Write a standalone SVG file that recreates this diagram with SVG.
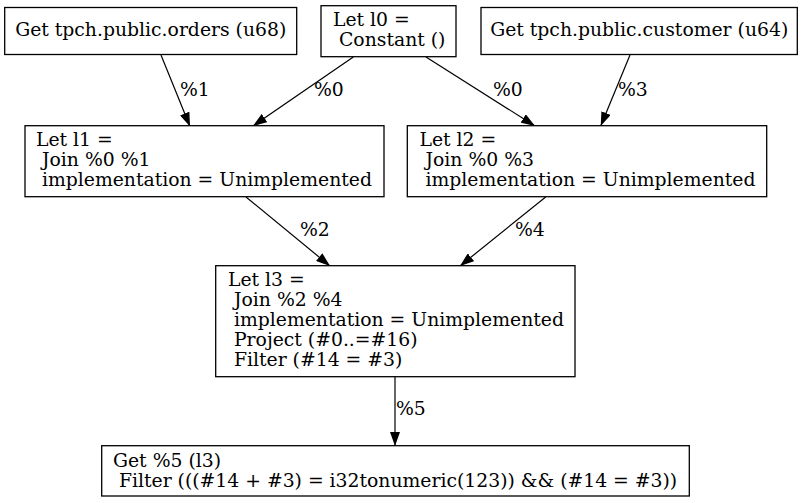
<svg xmlns="http://www.w3.org/2000/svg" width="804" height="503" viewBox="0 0 804 503">
<defs>
<marker id="arr" markerUnits="userSpaceOnUse" markerWidth="14" markerHeight="10" refX="14" refY="5" orient="auto">
<path d="M0,0 L14,5 L0,10 z" fill="#000"/>
</marker>
<style>
.box{fill:#fff;stroke:#000;stroke-width:1.3}
text{font-family:"DejaVu Serif",serif;font-size:18.8px;fill:#000}
.e{stroke:#000;stroke-width:1.2;fill:none;marker-end:url(#arr)}
</style>
</defs>
<rect width="804" height="503" fill="#fff"/>
<g id="connectors">
<line class="e" x1="161" y1="55" x2="190" y2="126.5"/>
<text x="180" y="95.7">%1</text>
<line class="e" x1="353.3" y1="57" x2="253" y2="126"/>
<text x="314" y="95.7">%0</text>
<line class="e" x1="426" y1="57" x2="535" y2="126"/>
<text x="493" y="95.7">%0</text>
<line class="e" x1="630" y1="55" x2="600.7" y2="126"/>
<text x="618" y="95.7">%3</text>
<line class="e" x1="246" y1="197" x2="330" y2="266"/>
<text x="300" y="236">%2</text>
<line class="e" x1="545.7" y1="197" x2="460" y2="266"/>
<text x="515" y="236">%4</text>
<line class="e" x1="395" y1="377" x2="395" y2="446"/>
<text x="396" y="415">%5</text>
</g>
<g id="orders">
<rect class="box" x="4.7" y="7.5" width="292" height="47"/>
<text x="150.7" y="36" text-anchor="middle">Get tpch.public.orders (u68)</text>
</g>
<g id="l0">
<rect class="box" x="321" y="5.7" width="135" height="51"/>
<text x="333" y="26">Let l0 =</text>
<text x="333" y="46" xml:space="preserve"> Constant ()</text>
</g>
<g id="customer">
<rect class="box" x="481" y="7.5" width="316.3" height="47"/>
<text x="639.2" y="36" text-anchor="middle">Get tpch.public.customer (u64)</text>
</g>
<g id="l1">
<rect class="box" x="25" y="125.7" width="359" height="71"/>
<text x="36" y="146">Let l1 =</text>
<text x="36" y="166" xml:space="preserve"> Join %0 %1</text>
<text x="36" y="186" xml:space="preserve"> implementation = Unimplemented</text>
</g>
<g id="l2">
<rect class="box" x="407.3" y="125.7" width="359.4" height="71"/>
<text x="419.5" y="146">Let l2 =</text>
<text x="419.5" y="166" xml:space="preserve"> Join %0 %3</text>
<text x="419.5" y="186" xml:space="preserve"> implementation = Unimplemented</text>
</g>
<g id="l3">
<rect class="box" x="215.7" y="265.7" width="359.3" height="111"/>
<text x="228" y="286">Let l3 =</text>
<text x="228" y="306" xml:space="preserve"> Join %2 %4</text>
<text x="228" y="326" xml:space="preserve"> implementation = Unimplemented</text>
<text x="228" y="346" xml:space="preserve"> Project (#0..=#16)</text>
<text x="228" y="366" xml:space="preserve"> Filter (#14 = #3)</text>
</g>
<g id="get5">
<rect class="box" x="101.7" y="445.7" width="587.6" height="50.3"/>
<text x="113" y="466.7">Get %5 (l3)</text>
<text x="113" y="486.7" xml:space="preserve"> Filter (((#14 + #3) = i32tonumeric(123)) &amp;&amp; (#14 = #3))</text>
</g>
</svg>
